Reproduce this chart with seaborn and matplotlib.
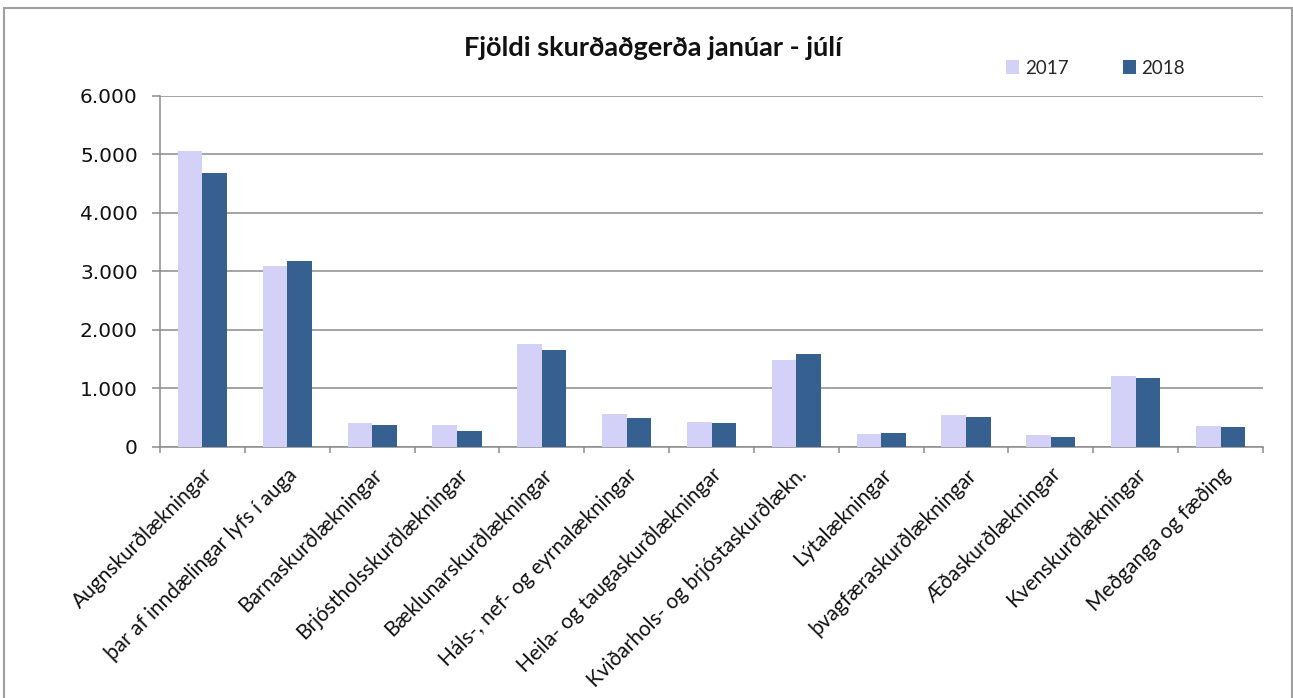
import matplotlib
matplotlib.use("Agg")
import matplotlib.pyplot as plt
from matplotlib.patches import Patch, Rectangle
from matplotlib.ticker import FixedLocator, FuncFormatter, MultipleLocator
import numpy as np
import pandas as pd
import seaborn as sns

# Surgical specialties
categories = [
    "Augnskurðlækningar",
    "þar af inndælingar lyfs í auga",
    "Barnaskurðlækningar",
    "Brjóstholsskurðlækningar",
    "Bæklunarskurðlækningar",
    "Háls-, nef- og eyrnalækningar",
    "Heila- og taugaskurðlækningar",
    "Kviðarhols- og brjóstaskurðlækn.",
    "Lýtalækningar",
    "þvagfæraskurðlækningar",
    "Æðaskurðlækningar",
    "Kvenskurðlækningar",
    "Meðganga og fæðing",
]
years = ["2017", "2018"]
values_2017 = [5060, 3080, 405, 360, 1755, 553, 427, 1482, 222, 535, 200, 1208, 354]
values_2018 = [4685, 3180, 376, 273, 1658, 479, 405, 1584, 228, 507, 154, 1179, 325]
y_ticks = [0, 1000, 2000, 3000, 4000, 5000, 6000]

colors = {"2017": "#D4D1F8", "2018": "#35608F"}
grid_color = "#8C8C8C"

df = pd.DataFrame({
    "Sérgrein": categories * 2,
    "Fjöldi": values_2017 + values_2018,
    "Ár": ["2017"] * len(categories) + ["2018"] * len(categories),
})

sns.set_theme(style="white")
plt.rcParams["font.family"] = ["Lato", "DejaVu Sans"]

W, H = 1293, 698
fig = plt.figure(figsize=(W / 100, H / 100), dpi=100)
ax = fig.add_axes([160 / W, 1 - 446.5 / H, (1263 - 160) / W, (446.5 - 95.7) / H])

sns.barplot(
    data=df, x="Sérgrein", y="Fjöldi", hue="Ár", hue_order=years,
    palette=colors, saturation=1, width=0.58, dodge=True,
    edgecolor="none", linewidth=0, legend=False, ax=ax, zorder=3,
)

# axes and grid
ax.set_xlim(-0.5, len(categories) - 0.5)
ax.set_ylim(y_ticks[0], y_ticks[-1])
ax.yaxis.set_major_locator(FixedLocator(y_ticks))
ax.yaxis.set_major_formatter(FuncFormatter(lambda v, p: f"{int(v):,}".replace(",", ".")))
ax.grid(axis="y", color=grid_color, linewidth=1.1, zorder=0)
ax.set_axisbelow(True)
ax.set_xlabel("")
ax.set_ylabel("")

for side in ("top", "right"):
    ax.spines[side].set_visible(False)
for side in ("left", "bottom"):
    ax.spines[side].set_color(grid_color)
    ax.spines[side].set_linewidth(1.1)

ax.tick_params(axis="y", which="major", direction="out", length=6, width=1.1,
               color=grid_color, pad=10, labelsize=14.5, left=True)
for lbl in ax.get_yticklabels():
    lbl.set_fontfamily("DejaVu Sans")
    lbl.set_color("#111111")

# category boundary ticks below the axis
ax.xaxis.set_minor_locator(MultipleLocator(1, offset=0.5))
ax.tick_params(axis="x", which="minor", direction="out", length=4.5, width=1.1,
               color=grid_color, bottom=True)
ax.tick_params(axis="x", which="major", length=0, pad=13)
ax.set_xticks(range(len(categories)))
ax.set_xticklabels(categories, rotation=45, ha="right", va="top",
                   rotation_mode="anchor", fontsize=15, color="#111111")

# title
fig.text(653 / W, 1 - 47.5 / H, "Fjöldi skurðaðgerða janúar - júlí",
         ha="center", va="center", fontsize=19.5, fontweight="bold", color="#111111")

# legend
handles = [Patch(facecolor=colors[y], edgecolor="none", label=y) for y in years]
fig.legend(handles=handles, loc="center left", bbox_to_anchor=(1006 / W, 1 - 68 / H),
           ncol=2, frameon=False, fontsize=13.5, handlelength=0.7, handleheight=0.7,
           handletextpad=0.3, columnspacing=2.9, borderpad=0, borderaxespad=0)

# chart border
fig.patches.append(Rectangle((4 / W, -0.02), (1292 - 4) / W, 1 - 8 / H + 0.02,
                             transform=fig.transFigure, fill=False,
                             edgecolor="#A0A0A0", linewidth=1.5))

fig.savefig("out.png", dpi=100)
